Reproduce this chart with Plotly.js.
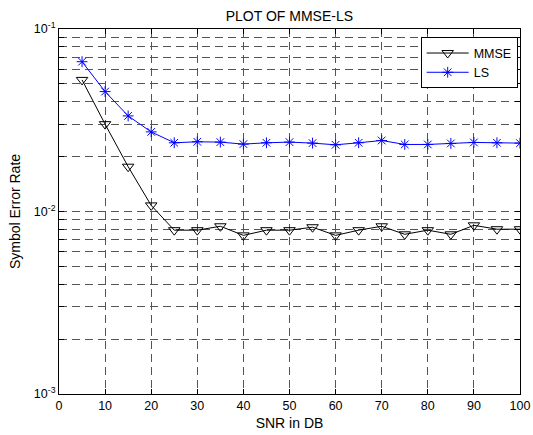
<!DOCTYPE html>
<html><head><meta charset="utf-8">
<script src="https://cdn.plot.ly/plotly-3.0.1.min.js"></script>
<style>html,body{margin:0;padding:0;background:#fff}#chart{width:533px;height:435px}</style>
</head><body><div id="chart"></div>
<script>
const snr = [5,10,15,20,25,30,35,40,45,50,55,60,65,70,75,80,85,90,95,100];
const mmse = [0.0526,0.0301,0.0176,0.0108,0.0079,0.0079,0.0083,0.0074,0.0079,0.0079,0.0082,0.0074,0.0079,0.0083,0.0075,0.0079,0.0075,0.0084,0.0080,0.0080];
const ls = [0.0662,0.0454,0.0334,0.0273,0.0238,0.0241,0.0240,0.0234,0.0238,0.0240,0.0237,0.0232,0.0238,0.0245,0.0233,0.0233,0.0236,0.0239,0.0238,0.0237];
const xTicks = [0,10,20,30,40,50,60,70,80,90,100];
const decades = [0.001,0.01,0.1];
const decadeLabels = ['10<sup>-3</sup>','10<sup>-2</sup>','10<sup>-1</sup>'];

const yvals = [], ytext = [];
for (let d = 0; d < 2; d++) {
  for (let m = 1; m <= 9; m++) {
    yvals.push(decades[d]*m);
    ytext.push(m === 1 ? decadeLabels[d] : '');
  }
}
yvals.push(decades[2]); ytext.push(decadeLabels[2]);

const fam = 'Liberation Sans, Arial, sans-serif';
const tickFont = {family:fam, size:12.5, color:'#000'};
const titleFont = {family:fam, size:14, color:'#000'};
const traces = [
  {x:snr, y:mmse, name:'MMSE', mode:'lines+markers',
   line:{color:'#000', width:1},
   marker:{symbol:'triangle-down-open', size:10, color:'#000', line:{width:1}}},
  {x:snr, y:ls, name:'LS', mode:'lines+markers',
   line:{color:'#0000ff', width:1},
   marker:{symbol:'asterisk-open', size:9, color:'#0000ff', line:{width:1, color:'#0000ff'}}}
];
const axisCommon = {showline:true, linecolor:'#000', linewidth:1, mirror:'ticks', ticks:'inside',
  ticklen:5, tickcolor:'#000', showgrid:true, gridcolor:'#555', griddash:'8px,5px', gridwidth:1,
  zeroline:false, tickfont:tickFont, automargin:false};
const layout = {
  width:533, height:435,
  margin:{l:59, r:13, t:29, b:41},
  paper_bgcolor:'#fff', plot_bgcolor:'#fff',
  font:tickFont,
  title:{text:'PLOT OF MMSE-LS', font:titleFont, x:0.543, xanchor:'center', y:0.962, yanchor:'middle'},
  xaxis:Object.assign({}, axisCommon, {range:[0,100], tickvals:xTicks, ticktext:xTicks.map(String),
    title:{text:'SNR in DB', font:titleFont, standoff:6}}),
  yaxis:Object.assign({}, axisCommon, {type:'log', range:[-3,-1], tickvals:yvals, ticktext:ytext,
    title:{text:'Symbol Error Rate', font:titleFont, standoff:9}}),
  showlegend:true,
  legend:{x:0.995, xanchor:'right', y:0.977, yanchor:'top', bgcolor:'#fff', bordercolor:'#000', borderwidth:1,
    font:{family:fam, size:12.5, color:'#000'}, tracegroupgap:0, itemwidth:42}
};
Plotly.newPlot('chart', traces, layout, {displayModeBar:false});
</script></body></html>
